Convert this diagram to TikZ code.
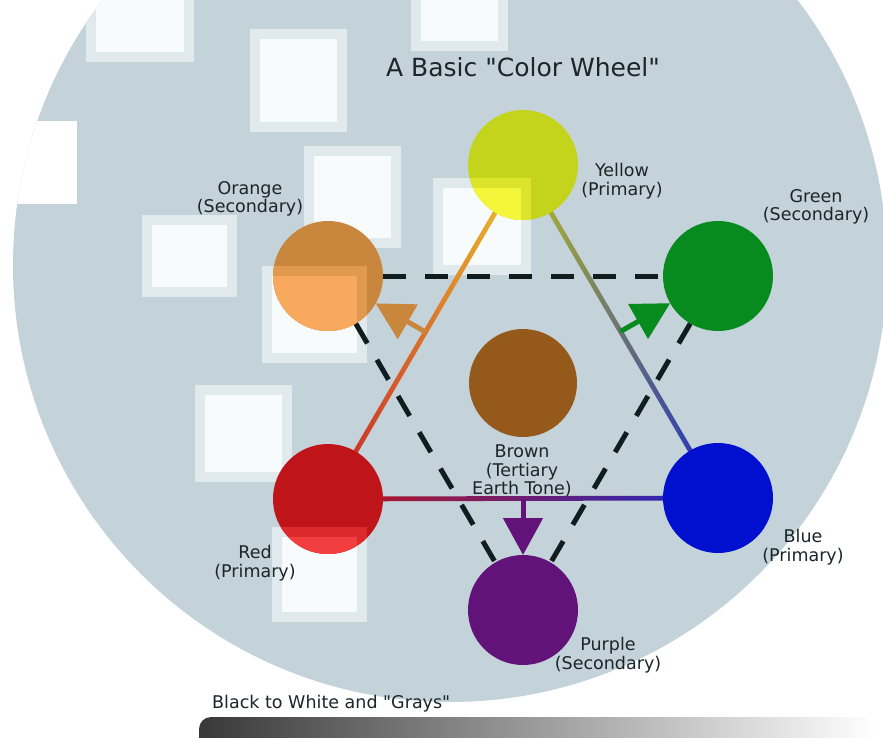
\documentclass[tikz,border=0pt]{standalone}
\usepackage{fontspec}
\setmainfont{DejaVu Sans}[Ligatures=TeXOff]
\usetikzlibrary{arrows.meta,calc}
\definecolor{bgblue}{HTML}{C3D3D9}
\definecolor{sqborder}{HTML}{E0E9EC}
\definecolor{sqwhite}{HTML}{F8FBFC}
\definecolor{txt}{HTML}{1A2628}
\definecolor{dashc}{HTML}{111C1E}
\definecolor{cYellow}{HTML}{C4D41C}
\definecolor{cYellowM}{HTML}{DCE42C}
\definecolor{cYellowB}{HTML}{F4F63A}
\definecolor{cOrange}{HTML}{C8873D}
\definecolor{cOrangeM}{HTML}{E09A50}
\definecolor{cOrangeB}{HTML}{F8A95E}
\definecolor{cRed}{HTML}{C0141B}
\definecolor{cRedM}{HTML}{DC2A2C}
\definecolor{cRedB}{HTML}{F23E3E}
\definecolor{cGreen}{HTML}{078A1E}
\definecolor{cBlue}{HTML}{0010CE}
\definecolor{cPurple}{HTML}{62137A}
\definecolor{cBrown}{HTML}{95591C}
\definecolor{lnYR}{HTML}{EDC82C}
\definecolor{lnRed}{HTML}{C8202A}
\definecolor{lnYB}{HTML}{B8BE22}
\definecolor{lnBlue}{HTML}{1A28C8}
\definecolor{barL}{HTML}{383838}
\newcommand\wsq[4]{%
  \fill[sqborder] (#1-10,#2-10) rectangle (#3+10,#4+10);
  \fill[sqwhite] (#1,#2) rectangle (#3,#4);}
\begin{document}
\begin{tikzpicture}[x=1pt,y=-1pt,
  disc/.style={circle,minimum size=110pt,inner sep=0pt,outer sep=0pt},
  lbl/.style={align=center,font=\fontsize{17.5}{18.5}\selectfont,text=txt,inner sep=0pt},
  dashline/.style={line width=5pt,dash pattern=on 23pt off 19pt,draw=dashc},
  arr/.style={line width=5pt,-{Triangle[length=37pt,width=39pt]}}]
\path[use as bounding box] (0,0) rectangle (883,738);
\begin{scope}
\clip (0,0) rectangle (883,738);
\fill[white] (0,0) rectangle (883,738);
\fill[bgblue] (450,265) circle[radius=437pt];
\begin{scope}
\clip (450,265) circle[radius=437pt];
% compression squares
\wsq{96}{0}{184}{52}
\wsq{260}{39}{337}{122}
\wsq{421}{0}{498}{41}
\wsq{314}{156}{391}{238}
\wsq{152}{225}{227}{287}
\wsq{443}{188}{521}{265}
\wsq{272}{276}{357}{353}
\wsq{205}{395}{282}{472}
\wsq{282}{537}{357}{612}
\fill[white] (-20,121) rectangle (77,204);
\end{scope}
% grey bar
\shade[left color=barL,right color=white,rounded corners=12pt] (199,717) rectangle (875,770);
\end{scope}

% node positions
\node[disc] (yellow) at (523,165) {};
\node[disc] (orange) at (328,276) {};
\node[disc] (green)  at (718,276) {};
\node[disc] (red)    at (328,499) {};
\node[disc] (blue)   at (718,498) {};
\node[disc] (purple) at (523,610) {};
\node[disc,minimum size=108pt] (brown) at (523,383) {};

% gradient primary lines
\shade[left color=lnRed,right color=lnYR]
  ($(yellow.center)!2.4pt!90:(red.center)$) -- ($(yellow.center)!2.4pt!-90:(red.center)$) --
  ($(red.center)!2.4pt!90:(yellow.center)$) -- ($(red.center)!2.4pt!-90:(yellow.center)$) -- cycle;
\shade[left color=lnYB,right color=lnBlue]
  ($(yellow.center)!2.4pt!90:(blue.center)$) -- ($(yellow.center)!2.4pt!-90:(blue.center)$) --
  ($(blue.center)!2.4pt!90:(yellow.center)$) -- ($(blue.center)!2.4pt!-90:(yellow.center)$) -- cycle;
\shade[left color=cRed,right color=lnBlue]
  ($(red.center)!2.4pt!90:(blue.center)$) -- ($(red.center)!2.4pt!-90:(blue.center)$) --
  ($(blue.center)!2.4pt!90:(red.center)$) -- ($(blue.center)!2.4pt!-90:(red.center)$) -- cycle;

% dashed secondary triangle
\draw[dashline] (orange) -- (green);
\draw[dashline] (orange) -- (purple);
\draw[dashline] (green) -- (purple);

% discs
\fill[cYellow] (yellow.center) circle[radius=55pt];
\fill[cOrange] (orange.center) circle[radius=55pt];
\fill[cGreen]  (green.center)  circle[radius=55pt];
\fill[cRed]    (red.center)    circle[radius=55pt];
\fill[cBlue]   (blue.center)   circle[radius=55pt];
\fill[cPurple] (purple.center) circle[radius=55pt];
\fill[cBrown]  (brown.center)  circle[radius=54pt];
% lightened patches
\begin{scope}
\clip (yellow.center) circle[radius=55pt];
\fill[cYellowM] (433,178) rectangle (531,275);
\fill[cYellowB] (443,188) rectangle (521,265);
\end{scope}
\begin{scope}
\clip (orange.center) circle[radius=55pt];
\fill[cOrangeM] (262,266) rectangle (367,363);
\fill[cOrangeB] (272,276) rectangle (357,353);
\end{scope}
\begin{scope}
\clip (red.center) circle[radius=55pt];
\fill[cRedM] (272,527) rectangle (367,622);
\fill[cRedB] (282,537) rectangle (357,612);
\end{scope}

% arrows to secondaries
\coordinate (mYR) at ($(yellow)!0.5!(red)$);
\coordinate (mYB) at ($(yellow)!0.5!(blue)$);
\coordinate (mRB) at ($(red)!0.5!(blue)$);
\draw[arr,draw=cOrange] (mYR) -- (orange);
\draw[arr,draw=cGreen] (mYB) -- (green);
\draw[arr,draw=cPurple] (mRB) -- (purple);

% labels
\node[lbl,font=\fontsize{25}{28}\selectfont] (title) at (523,67) {A Basic "Color Wheel"};
\node[lbl] (ylab) at (622,181) {Yellow\\(Primary)};
\node[lbl] (glab) at (816,207) {Green\\(Secondary)};
\node[lbl] (olab) at (250,199) {Orange\\(Secondary)};
\node[lbl] (blab) at (522,471) {Brown\\(Tertiary\\Earth Tone)};
\node[lbl] (rlab) at (255,563) {Red\\(Primary)};
\node[lbl] (bulab) at (803,547) {Blue\\(Primary)};
\node[lbl] (plab) at (608,655) {Purple\\(Secondary)};
\node[lbl,anchor=west] (barlab) at (212,704) {Black to White and "Grays"};
\end{tikzpicture}
\end{document}
